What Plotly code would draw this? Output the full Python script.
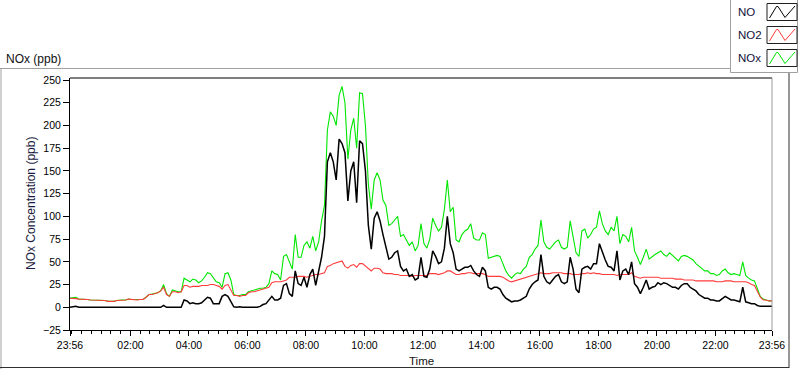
import plotly.graph_objects as go

# ---------------- data ----------------
# samples every 6 minutes, starting 23:56 and ending 23:56 the next day
step_min = 6
minutes = list(range(0, 24 * 60 + 1, step_min))

no = (
    [0, 0.5, 1, 0, 0, 0, 0, 0, 0, 0] +
    [0, 0, 0, 0, 0, 0, 0, 0, 0, 0] +
    [0, 0, 0, 0, 0, 0, 0, 0, 0, 0] +
    [0, 0, 2, 0, 0, 0, 0, 0, 0, 8] +
    [7, 4, 5, 4, 4, 5, 8, 11, 10, 4] +
    [4, 4, 12, 14, 12, 6, 0.5, 0, 0.5, 0] +
    [0, 0, 0.5, 0, 0, 1, 3, 4, 8, 12] +
    [8, 8, 10, 24, 26, 15, 12, 40, 26, 24] +
    [33, 22, 36, 42, 24, 40, 55, 78, 160, 170] +
    [160, 140, 185, 180, 170, 117, 150, 160, 115, 183] +
    [180, 150, 90, 64, 98, 105, 95, 80, 68, 53] +
    [55, 60, 62, 45, 40, 42, 34, 36, 30, 32] +
    [55, 34, 33, 42, 62, 56, 48, 50, 65, 100] +
    [70, 60, 42, 40, 42, 44, 44, 46, 40, 36] +
    [34, 44, 40, 22, 20, 22, 22, 20, 14, 10] +
    [8, 6, 7, 7, 8, 10, 12, 20, 25, 28] +
    [30, 58, 34, 28, 26, 30, 34, 36, 28, 26] +
    [28, 55, 42, 20, 16, 42, 44, 45, 42, 48] +
    [48, 70, 60, 52, 45, 44, 40, 62, 30, 40] +
    [42, 36, 50, 26, 22, 15, 22, 30, 20, 22] +
    [23, 27, 25, 27, 26, 24, 22, 22, 20, 24] +
    [26, 26, 22, 20, 18, 14, 12, 10, 10, 8] +
    [8, 7, 7, 10, 12, 10, 8, 8, 7, 6] +
    [22, 6, 5, 4, 4, 2, 1, 1, 1, 1] +
    [1]
)

no2 = (
    [10, 10, 9.5, 9, 9, 9, 8.5, 8, 8, 7.5] +
    [7.5, 8, 7.5, 6.5, 6.5, 6.5, 7.5, 7.5, 8, 8] +
    [9, 8.5, 8.5, 8, 8.5, 8.5, 11, 14, 14, 15] +
    [16, 18, 22, 14, 12, 17, 17, 16, 17, 24] +
    [24, 22, 23, 23, 23, 24, 24, 24, 25, 25] +
    [24, 23, 20, 24, 25, 19, 13, 13, 12, 13] +
    [13, 16, 17, 17, 18, 19, 20, 21, 22, 27] +
    [28, 28, 28, 29, 30, 33, 33, 33, 34, 34] +
    [34, 33, 34, 35, 36, 36, 37, 38, 45, 46] +
    [48, 49, 50, 51, 45, 43, 46, 47, 44, 48] +
    [48, 45, 43, 40, 43, 43, 42, 38, 37, 37] +
    [37, 36, 36, 35, 35, 35, 35, 34, 35, 35] +
    [35, 35, 35, 37, 37, 37, 36, 37, 38, 40] +
    [40, 38, 36, 36, 37, 37, 38, 38, 37, 37] +
    [37, 37, 36, 34, 34, 34, 34, 34, 33, 31] +
    [29, 28, 29, 30, 31, 32, 33, 34, 35, 36] +
    [37, 38, 37, 37, 37, 38, 38, 38, 38, 37] +
    [37, 37, 36, 36, 36, 37, 37, 38, 37, 38] +
    [37, 37, 36, 36, 36, 36, 36, 35, 36, 36] +
    [36, 36, 38, 34, 33, 32, 33, 33, 33, 33] +
    [33, 33, 32, 32, 32, 32, 32, 31, 31, 31] +
    [30, 30, 30, 30, 29, 29, 29, 29, 29, 29] +
    [29, 28, 28, 28, 29, 29, 29, 28, 28, 28] +
    [28, 28, 27, 25, 24, 17, 11, 8, 8, 7] +
    [7]
)

nox = (
    [10, 10.5, 11, 9, 9, 9, 8.5, 8, 8, 7.5] +
    [7.5, 8, 7.5, 6.5, 6.5, 6.5, 7.5, 8, 8, 8] +
    [9, 8.5, 8.5, 8, 8.5, 8.5, 11, 14, 14.5, 15] +
    [16, 18, 25, 15, 12, 19, 18, 17, 17, 32] +
    [30, 28, 31, 30, 27, 29, 33, 38, 37, 32] +
    [28, 27, 22, 37, 38, 30, 14, 13, 13, 14] +
    [14, 17, 18, 19, 20, 21, 21, 22, 26, 40] +
    [37, 36, 30, 56, 58, 50, 42, 80, 55, 55] +
    [68, 72, 65, 78, 62, 72, 95, 112, 195, 215] +
    [210, 200, 233, 243, 225, 163, 195, 208, 175, 236] +
    [235, 200, 135, 108, 140, 148, 140, 118, 112, 90] +
    [92, 96, 100, 78, 80, 74, 68, 72, 62, 68] +
    [92, 70, 65, 75, 98, 90, 84, 88, 108, 140] +
    [105, 110, 74, 72, 80, 84, 86, 92, 76, 74] +
    [74, 82, 80, 54, 55, 56, 57, 56, 48, 40] +
    [35, 32, 36, 38, 37, 42, 45, 55, 58, 64] +
    [68, 96, 72, 66, 64, 68, 72, 74, 66, 64] +
    [66, 95, 77, 60, 56, 84, 86, 76, 80, 86] +
    [88, 106, 92, 84, 80, 88, 84, 100, 70, 80] +
    [78, 72, 88, 62, 55, 47, 55, 64, 53, 56] +
    [58, 60, 62, 58, 56, 60, 57, 54, 51, 56] +
    [57, 56, 54, 52, 48, 45, 42, 40, 40, 37] +
    [37, 35, 36, 40, 42, 38, 36, 37, 36, 35] +
    [50, 35, 32, 30, 29, 20, 12, 9, 8, 7] +
    [7]
)

series_names = ["NO", "NO2", "NOx"]
series_colors = ["#000000", "#ff3b3b", "#00e600"]

tick_labels = ["23:56", "02:00", "04:00", "06:00", "08:00", "10:00", "12:00",
               "14:00", "16:00", "18:00", "20:00", "22:00", "23:56"]
y_ticks = [-25, 0, 25, 50, 75, 100, 125, 150, 175, 200, 225, 250]

start = 23 * 60 + 56
tick_vals = [0]
for lab in tick_labels[1:-1]:
    h, m = lab.split(":")
    tick_vals.append((int(h) * 60 + int(m) - start) % 1440)
tick_vals.append(1440)

# ---------------- figure ----------------
FW, FH = 800, 369
L, R, T, B = 70, 28, 78, 39
W, H = FW - L - R, FH - T - B


def fx(p):
    return (p - L) / W


def fy(p):
    return (T + H - p) / H


FONT = "Liberation Sans, Arial, sans-serif"
fig = go.Figure()

# draw order: NOx bottom, NO2, NO on top
for name, vals, col, wd in [("NOx", nox, series_colors[2], 1.1),
                            ("NO2", no2, series_colors[1], 1.1),
                            ("NO", no, series_colors[0], 1.5)]:
    fig.add_trace(go.Scatter(x=minutes, y=vals, mode="lines", name=name,
                             line=dict(color=col, width=wd), showlegend=False,
                             hoverinfo="skip"))

shapes = []
# plot frame: top black, right grey
shapes.append(dict(type="line", xref="paper", yref="paper", x0=0, x1=1, y0=1, y1=1,
                   line=dict(color="black", width=1)))
shapes.append(dict(type="line", xref="paper", yref="paper", x0=1, x1=1, y0=0, y1=1,
                   line=dict(color="#9a9a9a", width=1)))
# panel borders
shapes.append(dict(type="line", xref="paper", yref="paper", x0=fx(0), x1=fx(730),
                   y0=fy(68.5), y1=fy(68.5), line=dict(color="#a0a0a0", width=1)))
shapes.append(dict(type="line", xref="paper", yref="paper", x0=fx(1), x1=fx(1),
                   y0=fy(68.5), y1=fy(369), line=dict(color="#a0a0a0", width=1)))
shapes.append(dict(type="line", xref="paper", yref="paper", x0=fx(0), x1=fx(789),
                   y0=fy(367.5), y1=fy(367.5), line=dict(color="#303030", width=1)))
shapes.append(dict(type="line", xref="paper", yref="paper", x0=fx(789), x1=fx(789),
                   y0=fy(73), y1=fy(368), line=dict(color="#303030", width=1)))
# legend box
shapes.append(dict(type="rect", xref="paper", yref="paper", x0=fx(730.5), x1=fx(797.5),
                   y0=fy(72.5), y1=fy(-1), line=dict(color="#a0a0a0", width=1),
                   fillcolor="white"))

annotations = []
legend_rows = [12, 35, 58]
for name, col, yc in zip(series_names, series_colors, legend_rows):
    annotations.append(dict(text=name, xref="paper", yref="paper", x=fx(736), y=fy(yc),
                            xanchor="left", yanchor="middle", showarrow=False,
                            font=dict(family=FONT, size=11.5, color="#10103a")))
    bx0, bx1 = 767, 797
    by0, by1 = yc - 8.5, yc + 8.5
    shapes.append(dict(type="rect", xref="paper", yref="paper", x0=fx(bx0), x1=fx(bx1),
                       y0=fy(by1), y1=fy(by0), line=dict(color="#202020", width=1),
                       fillcolor="white"))
    pts = [(769.5, by1 - 2.5), (776.5, by0 + 3), (778, by0 + 3), (785, by1 - 3), (795, by0 + 2.5)]
    path = "M " + " L ".join(f"{fx(px):.5f},{fy(py):.5f}" for px, py in pts)
    shapes.append(dict(type="path", xref="paper", yref="paper", path=path,
                       line=dict(color=col, width=1)))

annotations.append(dict(text="NOx (ppb)", xref="paper", yref="paper", x=fx(4), y=fy(59),
                        xanchor="left", yanchor="middle", showarrow=False,
                        font=dict(family=FONT, size=12, color="#111111")))
annotations.append(dict(text="NOx Concentration (ppb)", xref="paper", yref="paper",
                        x=fx(31), y=fy(204), textangle=-90, xanchor="center",
                        yanchor="middle", showarrow=False,
                        font=dict(family=FONT, size=12, color="#1a1a40")))
annotations.append(dict(text="Time", xref="paper", yref="paper", x=fx(421), y=fy(361),
                        xanchor="center", yanchor="middle", showarrow=False,
                        font=dict(family=FONT, size=11.5, color="#111111")))

fig.update_layout(
    width=FW, height=FH, autosize=False,
    margin=dict(l=L, r=R, t=T, b=B, pad=0),
    paper_bgcolor="white", plot_bgcolor="white",
    font=dict(family=FONT, size=10, color="black"),
    shapes=shapes, annotations=annotations, showlegend=False,
    xaxis=dict(range=[0, 1440], tickmode="array", tickvals=tick_vals, ticktext=tick_labels,
               showgrid=False, zeroline=False, showline=True, linecolor="black", linewidth=1,
               ticks="outside", ticklen=5, tickcolor="black", tickwidth=1,
               tickfont=dict(family=FONT, size=10.5, color="black"),
               minor=dict(tick0=4, dtick=20, ticks="outside", ticklen=3,
                          tickcolor="black", tickwidth=1, showgrid=False),
               fixedrange=True),
    yaxis=dict(range=[-25, 252.2], tickmode="array", tickvals=y_ticks,
               showgrid=False, zeroline=False, showline=True, linecolor="black", linewidth=1,
               ticks="outside", ticklen=6, tickcolor="black", tickwidth=1,
               tickfont=dict(family=FONT, size=10.5, color="black"),
               fixedrange=True),
)

fig.write_html("out.html", config={"displayModeBar": False},
               post_script="document.body.style.margin='0';document.body.style.overflow='hidden';")
